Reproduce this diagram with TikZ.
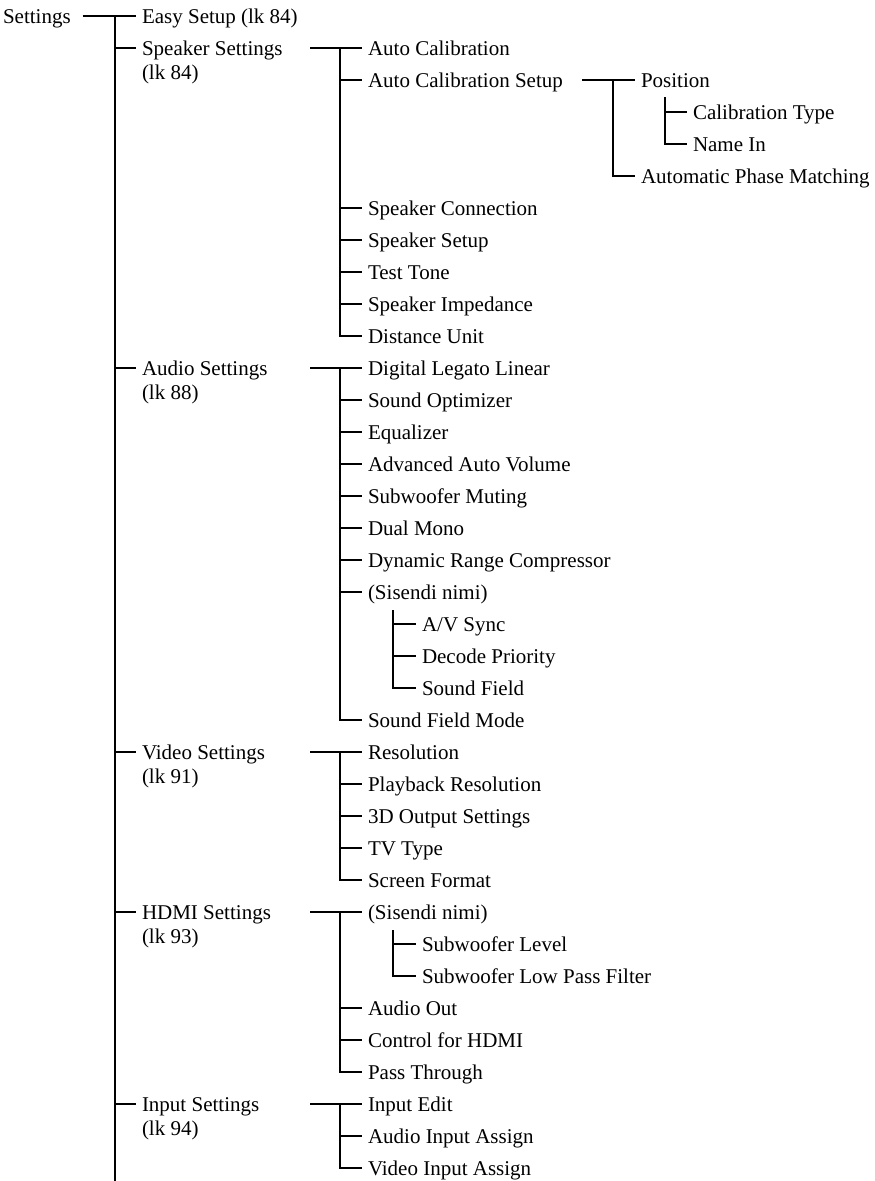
\documentclass[tikz,border=0pt]{standalone}
\usepackage{fontspec}
\setmainfont{Liberation Serif}
\begin{document}
\begin{tikzpicture}[x=1pt,y=-1pt,line width=2pt,
  lbl/.style={anchor=base west,inner sep=0pt,outer sep=0pt,align=left,font=\fontsize{21}{24}\selectfont}]
\useasboundingbox (0,0) rectangle (875,1181);
% root
\node[lbl] (settings) at (3,23) {Settings};
% tier 1 (x=142); two-line labels anchored on their last baseline
\node[lbl] (easy) at (142,23) {Easy Setup (lk 84)};
\node[lbl] (spk)  at (142,79) {Speaker Settings\\(lk 84)};
\node[lbl] (aud)  at (142,399) {Audio Settings\\(lk 88)};
\node[lbl] (vid)  at (142,783) {Video Settings\\(lk 91)};
\node[lbl] (hdmi) at (142,943) {HDMI Settings\\(lk 93)};
\node[lbl] (inp)  at (142,1135) {Input Settings\\(lk 94)};
% speaker children (x=368)
\node[lbl] (autocal)  at (368,55)  {Auto Calibration};
\node[lbl] (acsetup)  at (368,87)  {Auto Calibration Setup};
\node[lbl] (position) at (641,87)  {Position};
\node[lbl] (caltype)  at (693,119) {Calibration Type};
\node[lbl] (namein)   at (693,151) {Name In};
\node[lbl] (apm)      at (641,183) {Automatic Phase Matching};
\node[lbl] (spkconn)  at (368,215) {Speaker Connection};
\node[lbl] (spksetup) at (368,247) {Speaker Setup};
\node[lbl] (testtone) at (368,279) {Test Tone};
\node[lbl] (imped)    at (368,311) {Speaker Impedance};
\node[lbl] (distunit) at (368,343) {Distance Unit};
% audio children
\node[lbl] (dll)   at (368,375) {Digital Legato Linear};
\node[lbl] (sopt)  at (368,407) {Sound Optimizer};
\node[lbl] (eq)    at (368,439) {Equalizer};
\node[lbl] (aav)   at (368,471) {Advanced Auto Volume};
\node[lbl] (swm)   at (368,503) {Subwoofer Muting};
\node[lbl] (dmono) at (368,535) {Dual Mono};
\node[lbl] (drc)   at (368,567) {Dynamic Range Compressor};
\node[lbl] (sisa)  at (368,599) {(Sisendi nimi)};
\node[lbl] (avs)   at (422,631) {A/V Sync};
\node[lbl] (dprio) at (422,663) {Decode Priority};
\node[lbl] (sfld)  at (422,695) {Sound Field};
\node[lbl] (sfm)   at (368,727) {Sound Field Mode};
% video children
\node[lbl] (res)   at (368,759) {Resolution};
\node[lbl] (pres)  at (368,791) {Playback Resolution};
\node[lbl] (d3)    at (368,823) {3D Output Settings};
\node[lbl] (tvt)   at (368,855) {TV Type};
\node[lbl] (scrf)  at (368,887) {Screen Format};
% hdmi children
\node[lbl] (sish)  at (368,919) {(Sisendi nimi)};
\node[lbl] (swl)   at (422,951) {Subwoofer Level};
\node[lbl] (swlpf) at (422,983) {Subwoofer Low Pass Filter};
\node[lbl] (aout)  at (368,1015) {Audio Out};
\node[lbl] (cfh)   at (368,1047) {Control for HDMI};
\node[lbl] (pthr)  at (368,1079) {Pass Through};
% input children
\node[lbl] (iedit) at (368,1111) {Input Edit};
\node[lbl] (aia)   at (368,1143) {Audio Input Assign};
\node[lbl] (via)   at (368,1175) {Video Input Assign};
% entry points of the connectors
\foreach \n in {easy,autocal,acsetup,position,caltype,namein,apm,
  spkconn,spksetup,testtone,imped,distunit,dll,sopt,eq,aav,swm,dmono,drc,sisa,avs,dprio,sfld,sfm,
  res,pres,d3,tvt,scrf,sish,swl,swlpf,aout,cfh,pthr,iedit,aia,via}
  {\path ([shift={(-6,-7)}]\n.base west) coordinate (\n-in);}
\foreach \n in {spk,aud,vid,hdmi,inp}
  {\path ([shift={(-6,-31)}]\n.base west) coordinate (\n-in);}
% trunk
\coordinate (T) at (115,16);
\coordinate (Tend) at (115,1181);
\draw ([shift={(12,-7)}]settings.base east) -- (easy-in);
\draw (T) -- (Tend);
\foreach \n in {spk,aud,vid,hdmi,inp} {\draw (\n-in -| T) -- (\n-in);}
% tier-2 groups: vertical at x=340
\coordinate (V) at (340,0);
\foreach \f/\l/\mids in {autocal/distunit/{acsetup,spkconn,spksetup,testtone,imped},
    dll/sfm/{sopt,eq,aav,swm,dmono,drc,sisa},
    res/scrf/{pres,d3,tvt},
    sish/pthr/{aout,cfh},
    iedit/via/{aia}}{
  \draw ([xshift=-52]\f-in) -- (\f-in);
  \draw (\f-in -| V) -- (\l-in -| V) -- (\l-in);
  \foreach \m in \mids {\draw (\m-in -| V) -- (\m-in);}
}
% auto calibration setup group
\draw ([xshift=-53]position-in) -- (position-in);
\draw ([xshift=-22]position-in) -- ([xshift=-22]apm-in) -- (apm-in);
% position sub
\draw ([shift={(-22,-15)}]caltype-in) -- ([xshift=-22]namein-in) -- (namein-in);
\draw ([xshift=-22]caltype-in) -- (caltype-in);
% audio (Sisendi nimi) sub
\draw ([shift={(-23,-14)}]avs-in) -- ([xshift=-23]sfld-in) -- (sfld-in);
\draw ([xshift=-23]avs-in) -- (avs-in);
\draw ([xshift=-23]dprio-in) -- (dprio-in);
% hdmi (Sisendi nimi) sub
\draw ([shift={(-23,-14)}]swl-in) -- ([xshift=-23]swlpf-in) -- (swlpf-in);
\draw ([xshift=-23]swl-in) -- (swl-in);
\end{tikzpicture}
\end{document}
